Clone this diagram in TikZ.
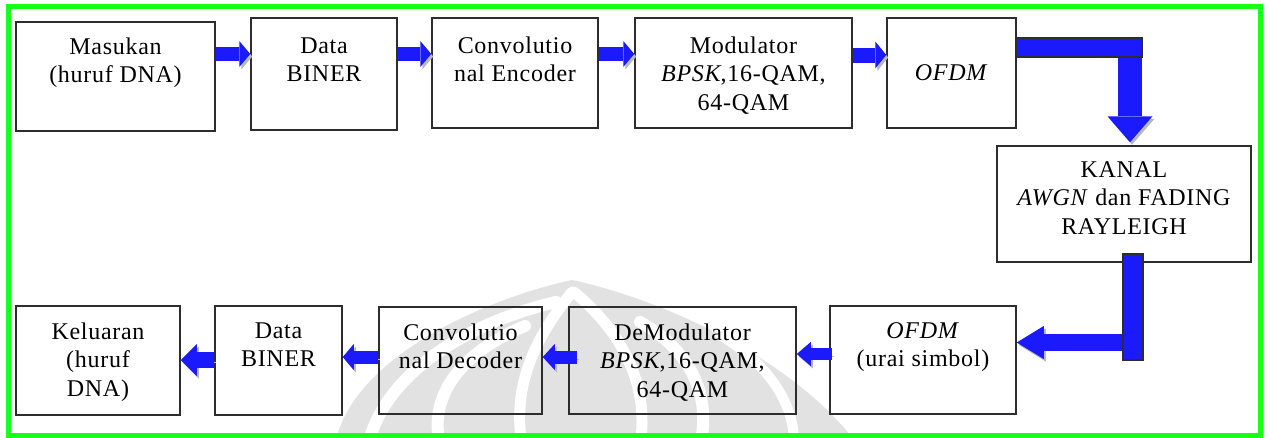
\documentclass[tikz,border=0pt]{standalone}
\usepackage{fontspec}
\setmainfont{Liberation Serif}[LetterSpace=3]
\usetikzlibrary{arrows.meta,calc}
\definecolor{frame}{RGB}{24,255,24}
\definecolor{flow}{RGB}{26,26,252}
\definecolor{ink}{RGB}{45,45,45}
\definecolor{emblem}{RGB}{226,226,226}

\begin{document}
\begin{tikzpicture}[x=1pt,y=-1pt,
  box/.style={draw=ink, line width=1.5pt, rectangle, inner sep=0pt},
  txt/.style={font=\fontsize{24}{28.5}\selectfont, align=center, inner sep=0pt,
              anchor=north, text=black},
  shadowed/.style={preaction={draw=black!28,
      transform canvas={xshift=2pt,yshift=-2.5pt}}},
  barrow/.style n args={3}{draw=flow, line width=#1, shadowed,
      -{Triangle[length=#3, width=#2, line width=0pt]}},
  bar/.style={fill=flow, draw=ink, line width=1.2pt},
  cut/.style={draw=white, line width=#1, line cap=round}]

\useasboundingbox (0,0) rectangle (1267,437);
\fill[white] (0,0) rectangle (1267,437);

% faint emblem behind the lower row
\begin{scope}
  \clip (11,9) rectangle (1258,433);
  \fill[emblem] (335,445) .. controls (350,360) and (480,300) .. (572,280)
     .. controls (665,300) and (795,360) .. (858,445) -- cycle;
  % white strokes carving the emblem
  \draw[cut=12pt] (368,445) .. controls (385,372) and (470,322) .. (556,302);
  \draw[cut=12pt] (440,445) .. controls (428,395) and (462,352) .. (525,326);
  \draw[cut=11pt] (572,292) .. controls (535,338) and (512,385) .. (522,445);
  \draw[cut=11pt] (574,292) .. controls (622,332) and (650,385) .. (640,445);
  \draw[cut=12pt] (700,445) .. controls (712,395) and (690,350) .. (640,322);
  \draw[cut=10pt] (794,445) .. controls (795,405) and (770,365) .. (720,335);
\end{scope}

% outer frame
\draw[frame, line width=5pt] (8.5,6.5) rectangle (1260.5,435.5);

% upper row
\node[box, minimum width=199pt, minimum height=109pt] (b1) at (115.5,76.5) {};
\node[box, minimum width=146pt, minimum height=112pt] (b2) at (324,74) {};
\node[box, minimum width=166pt, minimum height=110pt] (b3) at (515,73) {};
\node[box, minimum width=217pt, minimum height=110pt] (b4) at (743.5,73) {};
\node[box, minimum width=129pt, minimum height=110pt] (b5) at (951.5,73) {};
% channel
\node[box, minimum width=254pt, minimum height=116pt] (ch) at (1124,204) {};
% lower row
\node[box, minimum width=186pt, minimum height=108pt] (c5) at (923,360) {};
\node[box, minimum width=227pt, minimum height=107pt] (c4) at (682.5,360.5) {};
\node[box, minimum width=163pt, minimum height=107pt] (c3) at (460.5,360.5) {};
\node[box, minimum width=127pt, minimum height=109pt] (c2) at (278.5,360.5) {};
\node[box, minimum width=164pt, minimum height=109pt] (c1) at (98,360.5) {};

% labels
\node[txt] (t1) at ([yshift=-16pt]b1.north) {Masukan\\(huruf DNA)};
\node[txt] (t2) at ([yshift=-20pt]b2.north) {Data\\BINER};
\node[txt] (t3) at ([yshift=-19pt]b3.north) {Convolutio\\nal Encoder};
\node[txt] (t4) at ([yshift=-19pt]b4.north) {Modulator\\\textit{BPSK},16-QAM,\\64-QAM};
\node[txt] (t5) at ([yshift=-47pt]b5.north) {\textit{OFDM}};
\node[txt] (tc) at ([yshift=-16pt]ch.north) {KANAL\\\textit{AWGN} dan FADING\\RAYLEIGH};
\node[txt] (s5) at ([yshift=-17pt]c5.north) {\textit{OFDM}\\(urai simbol)};
\node[txt] (s4) at ([yshift=-17pt]c4.north) {DeModulator\\\textit{BPSK},16-QAM,\\64-QAM};
\node[txt] (s3) at ([yshift=-17pt]c3.north) {Convolutio\\nal Decoder};
\node[txt] (s2) at ([yshift=-17pt]c2.north) {Data\\BINER};
\node[txt] (s1) at ([yshift=-17pt]c1.north) {Keluaran\\(huruf\\DNA)};

% upper row connectors
\draw[barrow={14pt}{26pt}{11pt}] ([yshift=22.5pt]b1.east) -- ([yshift=22.5pt]b1.east -| b2.west);
\draw[barrow={14pt}{26pt}{11pt}] ([yshift=20pt]b2.east) -- ([yshift=20pt]b2.east -| b3.west);
\draw[barrow={14pt}{26pt}{11pt}] ([yshift=19pt]b3.east) -- ([yshift=19pt]b3.east -| b4.west);
\draw[barrow={15pt}{27pt}{11pt}] ([yshift=18pt]b4.east) -- ([yshift=18pt]b4.east -| b5.west);

% into the channel
\coordinate (k1) at (1130,57);
\draw[barrow={24pt}{45pt}{26pt}] (k1) -- ([yshift=3pt]ch.north -| k1);
\draw[bar] ([yshift=35pt]b5.east) rectangle (1142,57);

% out of the channel
\coordinate (k2) at (1123,342.5);
\draw[barrow={17pt}{33pt}{27pt}] (k2) -- (k2 -| c5.east);
\draw[bar] (1123,254) rectangle (1143,360);

% lower row connectors
\draw[barrow={12pt}{24pt}{14pt}] ([yshift=6pt,xshift=3pt]c5.west) -- ([yshift=6pt]c5.west -| c4.east);
\draw[barrow={13pt}{26pt}{12pt}] ([yshift=3.5pt,xshift=9pt]c4.west) -- ([yshift=3.5pt]c4.west -| c3.east);
\draw[barrow={13pt}{26pt}{11pt}] ([yshift=3.5pt]c3.west) -- ([yshift=3.5pt]c3.west -| c2.east);
\draw[barrow={16pt}{32pt}{16pt}] ([yshift=0.5pt]c2.west) -- ([yshift=0.5pt]c2.west -| c1.east);
\end{tikzpicture}
\end{document}
